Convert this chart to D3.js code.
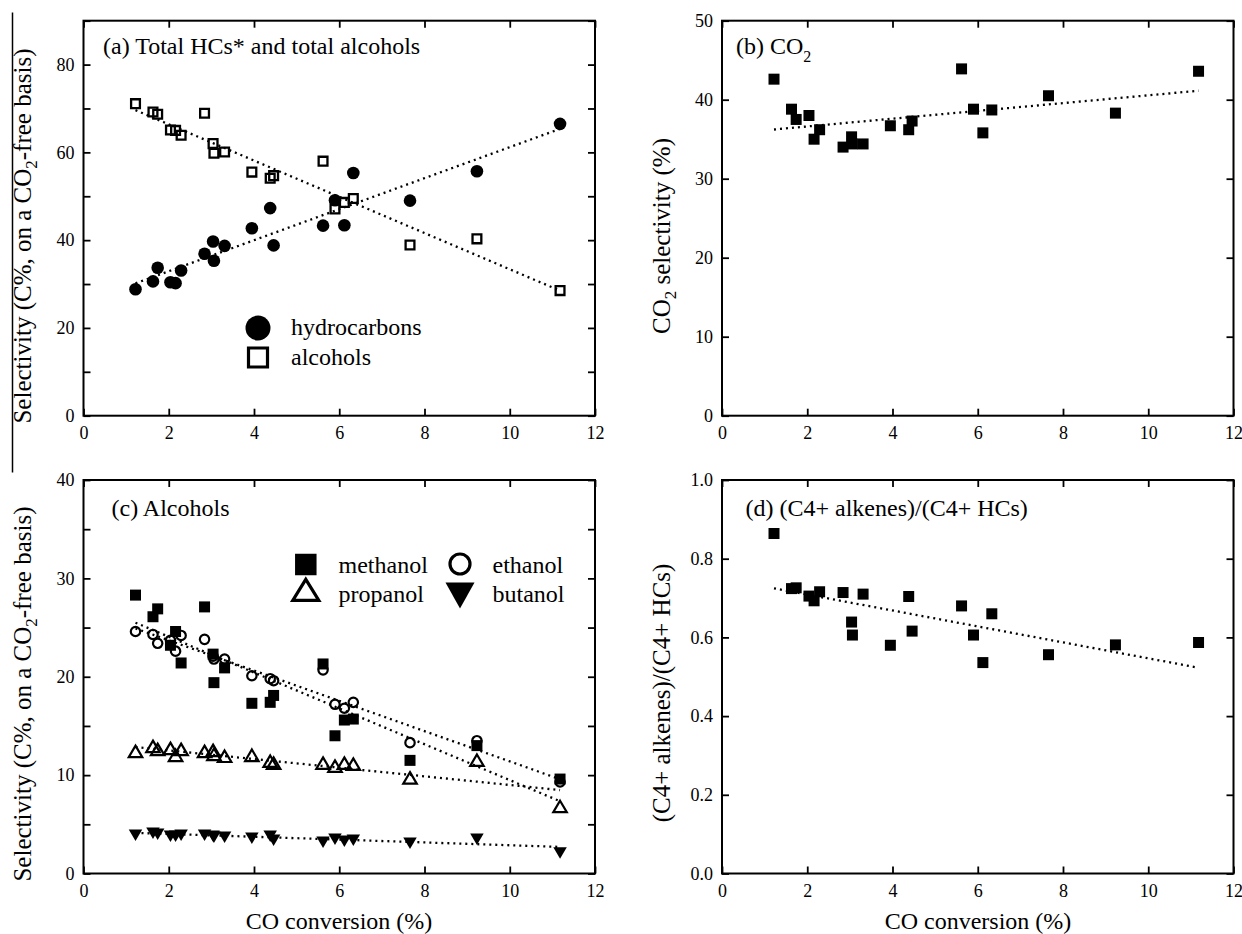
<!DOCTYPE html>
<html>
<head>
<meta charset="utf-8">
<script src="https://cdn.jsdelivr.net/npm/d3@7/dist/d3.min.js"></script>
<style>
  body { margin: 0; background: #fff; }
  svg text { font-family: "Liberation Serif", "Times New Roman", serif; fill: #000; }
</style>
</head>
<body>
<svg id="svg" width="1242" height="934"></svg>
<script>
// CO conversion (%) of the 20 runs, shared by all four panels
const conversion = [1.22, 1.63, 1.74, 2.04, 2.16, 2.29, 2.84, 3.04, 3.06, 3.31, 3.95, 4.38, 4.46, 5.62, 5.90, 6.12, 6.33, 7.66, 9.23, 11.18];

// (a) total HCs* and total alcohols
const hydrocarbons = [28.8, 30.6, 33.7, 30.4, 30.2, 33.1, 36.9, 39.7, 35.3, 38.7, 42.7, 47.3, 38.8, 43.3, 49.1, 43.4, 55.3, 49.0, 55.7, 66.5];
const alcohols = [71.1, 69.2, 68.7, 65.1, 65.0, 63.9, 68.9, 62.0, 59.8, 60.1, 55.5, 54.1, 54.7, 58.0, 47.1, 48.6, 49.5, 38.9, 40.3, 28.5];

// (b) CO2 selectivity
const co2 = [42.6, 38.8, 37.5, 38.0, 35.0, 36.2, 34.0, 35.3, 34.4, 34.4, 36.7, 36.2, 37.3, 43.9, 38.8, 35.8, 38.7, 40.5, 38.3, 43.6];

// (c) alcohols
const methanol = [28.3, 26.1, 26.9, 23.2, 24.6, 21.4, 27.1, 22.3, 19.4, 20.9, 17.3, 17.4, 18.1, 21.3, 14.0, 15.6, 15.7, 11.5, 13.0, 9.6];
const ethanol = [24.6, 24.3, 23.4, 23.7, 22.6, 24.2, 23.8, 22.1, 21.8, 21.8, 20.1, 19.8, 19.6, 20.7, 17.2, 16.8, 17.4, 13.3, 13.5, 9.3];
const propanol = [12.3, 12.8, 12.5, 12.6, 11.9, 12.5, 12.3, 12.4, 12.0, 11.8, 11.9, 11.3, 11.1, 11.1, 10.8, 11.1, 11.0, 9.6, 11.4, 6.7];
const butanol = [4.0, 4.2, 4.1, 3.9, 3.9, 4.0, 4.0, 3.9, 3.8, 3.8, 3.7, 3.9, 3.5, 3.3, 3.6, 3.4, 3.5, 3.2, 3.6, 2.2];

// (d) (C4+ alkenes)/(C4+ HCs)
const alkeneRatio = [0.864, 0.724, 0.726, 0.705, 0.693, 0.716, 0.714, 0.639, 0.606, 0.710, 0.580, 0.704, 0.616, 0.680, 0.606, 0.536, 0.660, 0.556, 0.581, 0.587];

// ticks
const xTicks = [0, 2, 4, 6, 8, 10, 12];
const aYTicks = [0, 10, 20, 30, 40, 50, 60, 70, 80, 90];
const aYLabels = [0, 20, 40, 60, 80];
const bYTicks = [0, 10, 20, 30, 40, 50];
const cYTicks = [0, 5, 10, 15, 20, 25, 30, 35, 40];
const cYLabels = [0, 10, 20, 30, 40];
const dYTicks = [0, 0.2, 0.4, 0.6, 0.8, 1.0];

const svg = d3.select('#svg');

// marker shapes
const sq = s => `M${-s/2},${-s/2}h${s}v${s}h${-s}Z`;
const triUp = (w, h) => `M0,${-h*0.6}L${w/2},${h*0.4}L${-w/2},${h*0.4}Z`;
const triDown = (w, h) => `M0,${h*0.6}L${w/2},${-h*0.4}L${-w/2},${-h*0.4}Z`;
const circ = r => d3.arc()({innerRadius: 0, outerRadius: r, startAngle: 0, endAngle: 2 * Math.PI});

function linFit(xs, ys) {
  const mx = d3.mean(xs), my = d3.mean(ys);
  let sxy = 0, sxx = 0;
  xs.forEach((v, i) => { sxy += (v - mx) * (ys[i] - my); sxx += (v - mx) * (v - mx); });
  const k = sxy / sxx;
  return v => my + k * (v - mx);
}

function makePanel(p) {
  const g = svg.append('g');
  const x = d3.scaleLinear().domain([0, 12]).range([p.left, p.right]);
  const y = d3.scaleLinear().domain(p.yDomain).range([p.bottom, p.top]);

  const bottom = g.append('g').attr('transform', `translate(0,${p.bottom})`)
    .call(d3.axisBottom(x).tickValues(xTicks).tickSize(-7).tickPadding(11));
  const top = g.append('g').attr('transform', `translate(0,${p.top})`)
    .call(d3.axisTop(x).tickValues(xTicks).tickSize(-7).tickFormat(''));
  const left = g.append('g').attr('transform', `translate(${p.left},0)`)
    .call(d3.axisLeft(y).tickValues(p.yTicks).tickSize(-7).tickPadding(9)
      .tickFormat(d => p.yLabels.includes(d) ? p.fmt(d) : ''));
  const right = g.append('g').attr('transform', `translate(${p.right},0)`)
    .call(d3.axisRight(y).tickValues(p.yTicks).tickSize(-7).tickFormat(''));

  [bottom, top, left, right].forEach(a => {
    a.attr('font-family', null);
    a.select('path.domain').remove();
    a.selectAll('line').attr('stroke', '#000').attr('stroke-width', 1.8);
    a.selectAll('text').attr('font-size', 18).attr('fill', '#000');
  });

  g.append('rect')
    .attr('x', p.left).attr('y', p.top)
    .attr('width', p.right - p.left).attr('height', p.bottom - p.top)
    .attr('fill', 'none').attr('stroke', '#000').attr('stroke-width', 2);

  return { g, x, y };
}

function trend(panel, ys) {
  const f = linFit(conversion, ys);
  const x0 = d3.min(conversion), x1 = d3.max(conversion);
  panel.g.append('line')
    .attr('x1', panel.x(x0)).attr('y1', panel.y(f(x0)))
    .attr('x2', panel.x(x1)).attr('y2', panel.y(f(x1)))
    .attr('stroke', '#000').attr('stroke-width', 2.3)
    .attr('stroke-dasharray', '2 4');
}

function points(panel, ys, shape, fill, stroke) {
  panel.g.append('g').selectAll('path')
    .data(ys)
    .join('path')
    .attr('transform', (d, i) => `translate(${panel.x(conversion[i])},${panel.y(d)})`)
    .attr('d', shape)
    .attr('fill', fill)
    .attr('stroke', stroke ? '#000' : 'none')
    .attr('stroke-width', stroke || 0);
}

// stray rule at the far left of the figure
svg.append('line').attr('x1', 12.5).attr('x2', 12.5).attr('y1', 12.5).attr('y2', 472.5)
  .attr('stroke', '#000').attr('stroke-width', 1.5);

// ---------- (a) ----------
const pa = makePanel({ left: 83.5, right: 595, top: 20.7, bottom: 415.7, yDomain: [0, 90],
  yTicks: aYTicks, yLabels: aYLabels, fmt: d3.format('d') });
trend(pa, hydrocarbons);
trend(pa, alcohols);
points(pa, hydrocarbons, circ(6.3), '#000', 0);
points(pa, alcohols, sq(8.8), 'none', 2.3);

pa.g.append('text').attr('x', 103).attr('y', 54).attr('font-size', 24)
  .text('(a) Total HCs* and total alcohols');
pa.g.append('path').attr('transform', 'translate(258,328)').attr('d', circ(12.5)).attr('fill', '#000');
pa.g.append('path').attr('transform', 'translate(258,357.5)').attr('d', sq(19)).attr('fill', 'none')
  .attr('stroke', '#000').attr('stroke-width', 3.2);
pa.g.append('text').attr('x', 291).attr('y', 334.5).attr('font-size', 24).text('hydrocarbons');
pa.g.append('text').attr('x', 291).attr('y', 364.5).attr('font-size', 24).text('alcohols');

const ta = pa.g.append('text').attr('transform', 'translate(31,236) rotate(-90)')
  .attr('text-anchor', 'middle').attr('font-size', 25);
ta.append('tspan').text('Selectivity (C%, on a CO');
ta.append('tspan').attr('dy', 6).attr('font-size', 17).text('2');
ta.append('tspan').attr('dy', -6).text('-free basis)');

// ---------- (b) ----------
const pb = makePanel({ left: 722, right: 1233.5, top: 20.7, bottom: 415.7, yDomain: [0, 50],
  yTicks: bYTicks, yLabels: bYTicks, fmt: d3.format('d') });
trend(pb, co2);
points(pb, co2, sq(11), '#000', 0);

const tb = pb.g.append('text').attr('x', 736).attr('y', 53.5).attr('font-size', 24);
tb.append('tspan').text('(b) CO');
tb.append('tspan').attr('dy', 8).attr('font-size', 16).text('2');

const yb = pb.g.append('text').attr('transform', 'translate(669.5,236) rotate(-90)')
  .attr('text-anchor', 'middle').attr('font-size', 25);
yb.append('tspan').text('CO');
yb.append('tspan').attr('dy', 6).attr('font-size', 17).text('2');
yb.append('tspan').attr('dy', -6).text(' selectivity (%)');

// ---------- (c) ----------
const pc = makePanel({ left: 83.5, right: 595, top: 480, bottom: 873.5, yDomain: [0, 40],
  yTicks: cYTicks, yLabels: cYLabels, fmt: d3.format('d') });
trend(pc, methanol);
trend(pc, ethanol);
trend(pc, propanol);
trend(pc, butanol);
points(pc, methanol, sq(11), '#000', 0);
points(pc, ethanol, circ(4.7), 'none', 2.2);
points(pc, propanol, triUp(13.5, 11.5), 'none', 2.2);
points(pc, butanol, triDown(13.5, 11.5), '#000', 0);

pc.g.append('text').attr('x', 111.5).attr('y', 516).attr('font-size', 24).text('(c) Alcohols');
pc.g.append('path').attr('transform', 'translate(305.8,564.5)').attr('d', sq(21.5)).attr('fill', '#000');
pc.g.append('path').attr('transform', 'translate(460,564)').attr('d', circ(10)).attr('fill', 'none')
  .attr('stroke', '#000').attr('stroke-width', 3.2);
pc.g.append('path').attr('transform', 'translate(305.8,592)').attr('d', triUp(26, 21)).attr('fill', 'none')
  .attr('stroke', '#000').attr('stroke-width', 3.2);
pc.g.append('path').attr('transform', 'translate(460,593)').attr('d', triDown(29, 26)).attr('fill', '#000');
pc.g.append('text').attr('x', 338.5).attr('y', 573).attr('font-size', 24).text('methanol');
pc.g.append('text').attr('x', 492.5).attr('y', 573).attr('font-size', 24).text('ethanol');
pc.g.append('text').attr('x', 338.5).attr('y', 601.5).attr('font-size', 24).text('propanol');
pc.g.append('text').attr('x', 492.5).attr('y', 601.5).attr('font-size', 24).text('butanol');

const tc = pc.g.append('text').attr('transform', 'translate(31,694) rotate(-90)')
  .attr('text-anchor', 'middle').attr('font-size', 25);
tc.append('tspan').text('Selectivity (C%, on a CO');
tc.append('tspan').attr('dy', 6).attr('font-size', 17).text('2');
tc.append('tspan').attr('dy', -6).text('-free basis)');

pc.g.append('text').attr('x', 339).attr('y', 929).attr('text-anchor', 'middle')
  .attr('font-size', 24).text('CO conversion (%)');

// ---------- (d) ----------
const pd = makePanel({ left: 722, right: 1233.5, top: 480, bottom: 873.5, yDomain: [0, 1],
  yTicks: dYTicks, yLabels: dYTicks, fmt: d3.format('.1f') });
trend(pd, alkeneRatio);
points(pd, alkeneRatio, sq(11), '#000', 0);

pd.g.append('text').attr('x', 745.5).attr('y', 515.5).attr('font-size', 24)
  .text('(d) (C4+ alkenes)/(C4+ HCs)');

pd.g.append('text').attr('transform', 'translate(669.5,693) rotate(-90)')
  .attr('text-anchor', 'middle').attr('font-size', 25).text('(C4+ alkenes)/(C4+ HCs)');

pd.g.append('text').attr('x', 978).attr('y', 929).attr('text-anchor', 'middle')
  .attr('font-size', 24).text('CO conversion (%)');
</script>
</body>
</html>
